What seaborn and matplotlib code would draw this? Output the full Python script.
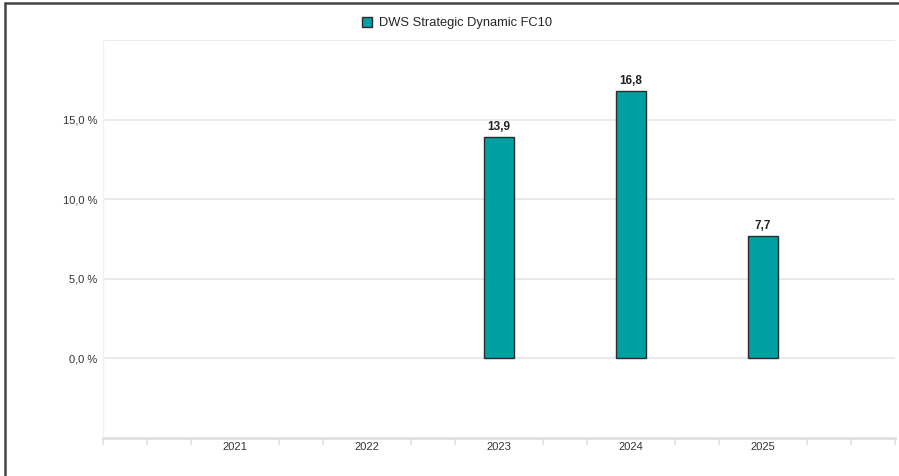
import matplotlib
matplotlib.use("Agg")
import matplotlib.pyplot as plt
import matplotlib.lines as mlines
import numpy as np
import pandas as pd
import seaborn as sns

years = ["2021", "2022", "2023", "2024", "2025"]
returns = [np.nan, np.nan, 13.9, 16.8, 7.7]
fund = "DWS Strategic Dynamic FC10"
y_ticks = [0, 5, 10, 15, 20]

sns.set_theme(style="white")
plt.rcParams["font.family"] = ["Liberation Sans", "DejaVu Sans"]

df = pd.DataFrame({"Jahr": years, "Rendite": returns, "Fonds": fund})

fig = plt.figure(figsize=(8.99, 4.76), dpi=100)
ax = fig.add_axes([103 / 899, 1 - 438 / 476, (895 - 103) / 899, (438 - 40) / 476])

sns.barplot(data=df, x="Jahr", y="Rendite", hue="Fonds", order=years,
            palette=["#00A0A2"], width=0.23, edgecolor="#2b2b2b", linewidth=1.0,
            saturation=1, ax=ax, legend=True, zorder=3)

for cont in ax.containers:
    labels = ["" if np.isnan(v) else f"{v:.1f}".replace(".", ",") for v in cont.datavalues]
    ax.bar_label(cont, labels=labels, padding=3, fontsize=8.5, fontweight="bold", color="#222222")

ax.set_xlim(-1, 5)
ax.set_ylim(-5, 20)
ax.set_yticks(y_ticks)
ax.set_yticklabels([f"{t:.1f} %".replace(".", ",") if t < 20 else "" for t in y_ticks])
ax.yaxis.grid(True, color="#e6e6e6", linewidth=1.2)
ax.set_axisbelow(True)
ax.set_xlabel("")
ax.set_ylabel("")

minor = [p for p in np.arange(-1, 5.01, 1 / 3) if abs(p - round(p)) > 0.01 or round(p) in (-1, 5)]
ax.set_xticks(minor, minor=True)
ax.tick_params(axis="x", which="major", bottom=False, length=0, pad=3, labelsize=8, labelcolor="#333333")
ax.tick_params(axis="x", which="minor", bottom=True, length=5, width=1.2, color="#e0e0e0", direction="out")
ax.tick_params(axis="y", length=0, pad=4, labelsize=8, labelcolor="#333333")

for side in ["top", "right"]:
    ax.spines[side].set_visible(False)
ax.spines["left"].set_color("#f2f2f2")
ax.spines["left"].set_linewidth(1)
ax.spines["bottom"].set_color("#e0e0e0")
ax.spines["bottom"].set_linewidth(2)

sns.move_legend(ax, "center", bbox_to_anchor=(457 / 899, 1 - 23 / 476),
                bbox_transform=fig.transFigure, frameon=False, title=None,
                fontsize=9.3, handlelength=0.8, handleheight=0.8, handletextpad=0.5)

# outer frame (left and top)
fig.add_artist(mlines.Line2D([4.5 / 899, 4.5 / 899], [0, 1 - 2.5 / 476], color="#444444", linewidth=1.8))
fig.add_artist(mlines.Line2D([4.5 / 899, 898 / 899], [1 - 2.5 / 476, 1 - 2.5 / 476], color="#444444", linewidth=1.8))

fig.savefig("out.png", dpi=100)
